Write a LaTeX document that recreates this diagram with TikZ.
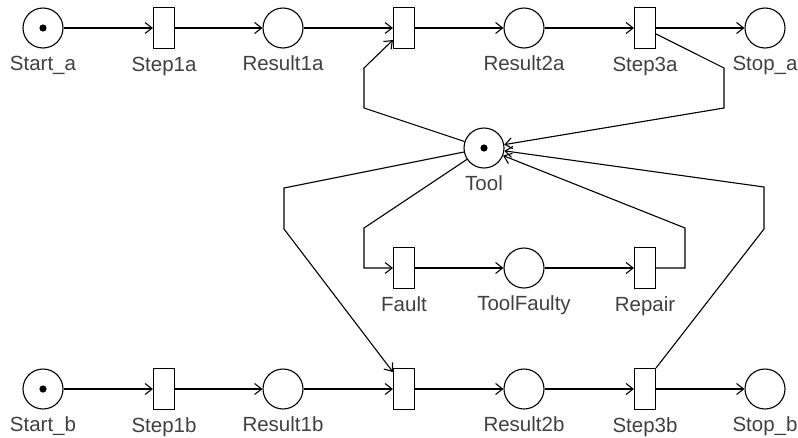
\documentclass[tikz,border=0pt]{standalone}
\usepackage{fontspec}
\setmainfont{Liberation Sans}
\usetikzlibrary{arrows.meta}

\begin{document}
\begin{tikzpicture}[
    x=1pt, y=-1pt,
    >={Straight Barb[length=7pt, width=11pt]},
    label distance=7pt,
    plc/.style={circle, draw=black, line width=1.1pt, minimum size=40pt, inner sep=0pt},
    trn/.style={rectangle, draw=black, line width=1.1pt, minimum width=21pt, minimum height=41pt, inner sep=0pt},
    lbl/.style={font=\fontsize{20.5}{24}\selectfont, text=black!75, inner sep=0pt, text height=15pt, text depth=4pt},
    every label/.style={lbl},
    arr/.style={->, line width=1.1pt, black}
]
\useasboundingbox (0,0) rectangle (798,437);

% process a
\node[plc, label=below:Start\_a] (startA) at (43,28) {};
\node[trn, label=below:Step1a] (step1A) at (164,28) {};
\node[plc, label=below:Result1a] (res1A) at (283,28) {};
\node[trn] (takeA) at (404,28) {};
\node[plc, label=below:Result2a] (res2A) at (524,28) {};
\node[trn, label=below:Step3a] (step3A) at (645,28) {};
\node[plc, label=below:Stop\_a] (stopA) at (765,28) {};

% tool
\node[plc, label=below:Tool] (tool) at (484,148) {};
\node[trn, label=below:Fault] (fault) at (404,268) {};
\node[plc, label=below:ToolFaulty] (faulty) at (524,268) {};
\node[trn, label=below:Repair] (repair) at (645,268) {};

% process b
\node[plc, label=below:Start\_b] (startB) at (43,389) {};
\node[trn, label=below:Step1b] (step1B) at (164,389) {};
\node[plc, label=below:Result1b] (res1B) at (283,389) {};
\node[trn] (takeB) at (404,389) {};
\node[plc, label=below:Result2b] (res2B) at (524,389) {};
\node[trn, label=below:Step3b] (step3B) at (645,389) {};
\node[plc, label=below:Stop\_b] (stopB) at (765,389) {};

% tokens
\foreach \p in {startA, startB, tool}
    \fill (\p) circle (3.6pt);

\draw[arr] (startA) -- (step1A);
\draw[arr] (step1A) -- (res1A);
\draw[arr] (res1A) -- (takeA);
\draw[arr] (takeA) -- (res2A);
\draw[arr] (res2A) -- (step3A);
\draw[arr] (step3A) -- (stopA);

\draw[arr] (startB) -- (step1B);
\draw[arr] (step1B) -- (res1B);
\draw[arr] (res1B) -- (takeB);
\draw[arr] (takeB) -- (res2B);
\draw[arr] (res2B) -- (step3B);
\draw[arr] (step3B) -- (stopB);

\draw[arr] (fault) -- (faulty);
\draw[arr] (faulty) -- (repair);

% arcs to and from the tool
\draw[arr] (tool) -- (364,108) -- (364,68) -- ([yshift=-12pt]takeA.west);
\draw[arr] ([yshift=-6pt]step3A.east) -- (724,68) -- (724,108) -- (tool);
\draw[arr] (tool) -- (284,188) -- (284,229) -- ([yshift=17pt]takeB.west);
\draw[arr] (step3B.north east) -- (764,229) -- (764,187) -- (tool);
\draw[arr] (tool) -- (364,228) -- (364,268) -- (fault);
\draw[arr] (repair) -- (685,268) -- (685,228) -- (tool);

\end{tikzpicture}
\end{document}
